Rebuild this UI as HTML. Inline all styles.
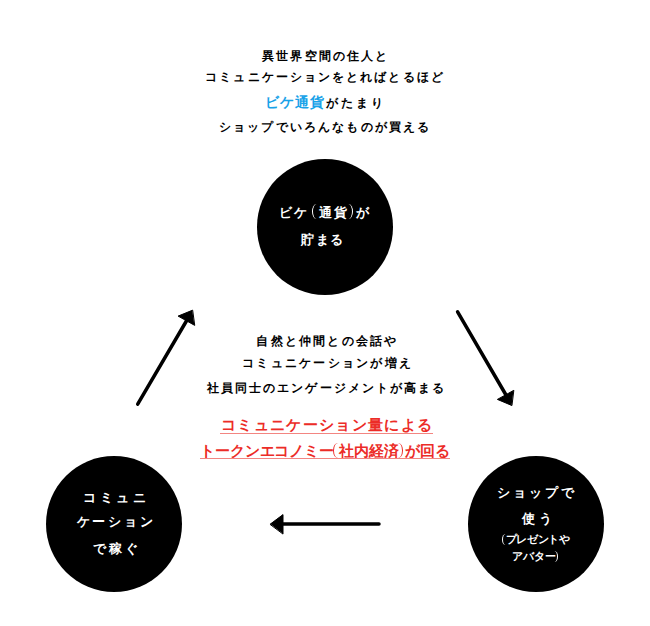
<!DOCTYPE html>
<html><head><meta charset="utf-8">
<style>
html,body{margin:0;padding:0;background:#fff;}
body{width:650px;height:626px;position:relative;overflow:hidden;font-family:"Liberation Sans",sans-serif;font-weight:bold;color:#000;}
.l{position:absolute;white-space:nowrap;line-height:20px;height:20px;}
.c{position:absolute;border-radius:50%;background:#000;}
.w{color:#fff;}
.b{color:#18a2e8;}
.r{color:#ec2c27;}
.u{position:absolute;height:1px;background:#f38581;}
.pl,.pr{display:inline-block;box-sizing:border-box;border-radius:50%;border:0 solid currentColor;}
.pl{border-left-width:1.4px;}
.pr{border-right-width:1.4px;}
svg{position:absolute;left:0;top:0;}
</style></head><body>
<div class="c" style="left:257.40px;top:159.30px;width:135.6px;height:135.6px;"></div>
<div class="c" style="left:46.25px;top:456.15px;width:136.1px;height:136.1px;"></div>
<div class="c" style="left:468.35px;top:456.25px;width:135.7px;height:135.7px;"></div>
<div class="l " style="left:262.00px;top:45.80px;font-size:12px;letter-spacing:2.175px;">異世界空間の住人と</div>
<div class="l " style="left:205.30px;top:67.40px;font-size:12px;letter-spacing:2.088px;">コミュニケーションをとればとるほど</div>
<div class="l " style="left:265.20px;top:92.10px;font-size:12px;letter-spacing:3.157px;"><span class="b" style="font-size:14px;letter-spacing:1.1px">ビケ通貨</span>がたまり</div>
<div class="l " style="left:219.00px;top:117.00px;font-size:12px;letter-spacing:2.164px;">ショップでいろんなものが買える</div>
<div class="l " style="left:256.40px;top:331.00px;font-size:12px;letter-spacing:2.189px;">自然と仲間との会話や</div>
<div class="l " style="left:242.00px;top:352.80px;font-size:12px;letter-spacing:2.264px;">コミュニケーションが増え</div>
<div class="l " style="left:206.90px;top:378.00px;font-size:12px;letter-spacing:2.081px;">社員同士のエンゲージメントが高まる</div>
<div class="l r" style="left:220.80px;top:415.30px;font-size:15px;letter-spacing:1.367px;">コミュニケーション量による</div>
<div class="l r" style="left:199.80px;top:440.50px;font-size:15px;letter-spacing:-0.06px;">トークンエコノミー<span class="pl" style="width:10px;height:14.5px;margin:0 -4px 0 -1px;vertical-align:-2px"></span>社内経済<span class="pr" style="width:10px;height:14.5px;margin:0 2px 0 -6px;vertical-align:-2px"></span>が回る</div>
<div class="l w" style="left:279.20px;top:202.90px;font-size:13px;letter-spacing:2.159px;">ビケ<span class="pl" style="width:9px;height:15px;margin:0 -2px 0 2px;vertical-align:-2.5px"></span>通貨<span class="pr" style="width:9px;height:15px;margin:0 3px 0 -5px;vertical-align:-2.5px"></span>が</div>
<div class="l w" style="left:301.00px;top:230.10px;font-size:13px;letter-spacing:1.65px;">貯まる</div>
<div class="l w" style="left:83.00px;top:488.10px;font-size:13px;letter-spacing:3.6px;">コミュニ</div>
<div class="l w" style="left:76.60px;top:512.10px;font-size:13px;letter-spacing:2.75px;">ケーション</div>
<div class="l w" style="left:93.00px;top:539.00px;font-size:13px;letter-spacing:3.0px;">で稼ぐ</div>
<div class="l w" style="left:497.20px;top:482.70px;font-size:13px;letter-spacing:2.875px;">ショップで</div>
<div class="l w" style="left:522.00px;top:508.60px;font-size:13px;letter-spacing:3.8px;">使う</div>
<div class="l w" style="left:501.60px;top:529.00px;font-size:10.5px;letter-spacing:-0.3px;"><span class="pl" style="width:7px;height:11px;margin:0 -3px 0 0;vertical-align:-1.5px"></span>プレゼントや</div>
<div class="l w" style="left:512.20px;top:546.20px;font-size:10.5px;letter-spacing:0.0px;">アバター<span class="pr" style="width:7px;height:11px;margin:0 0 0 -5px;vertical-align:-1.5px"></span></div>
<div class="u" style="left:220.1px;width:212.6px;top:433.3px;"></div>
<div class="u" style="left:200.4px;width:249.49999999999997px;top:458px;"></div>
<svg width="650" height="626" viewBox="0 0 650 626"><g stroke="#000" stroke-width="3.5" stroke-linecap="round" stroke-linejoin="round" fill="#000">
<line x1="137.7" y1="404.2" x2="187" y2="320"/>
<line x1="457.6" y1="311.8" x2="506" y2="395"/>
<line x1="379" y1="524" x2="278" y2="524"/>
<polygon points="192.3,310.3 178.1,316.1 194.4,325.2" stroke-width="1"/>
<polygon points="511.6,405.4 497.4,399.4 513.5,390.5" stroke-width="1"/>
<polygon points="270.3,524.1 283,514.6 283,533.7" stroke-width="1"/>
</g></svg>
</body></html>
